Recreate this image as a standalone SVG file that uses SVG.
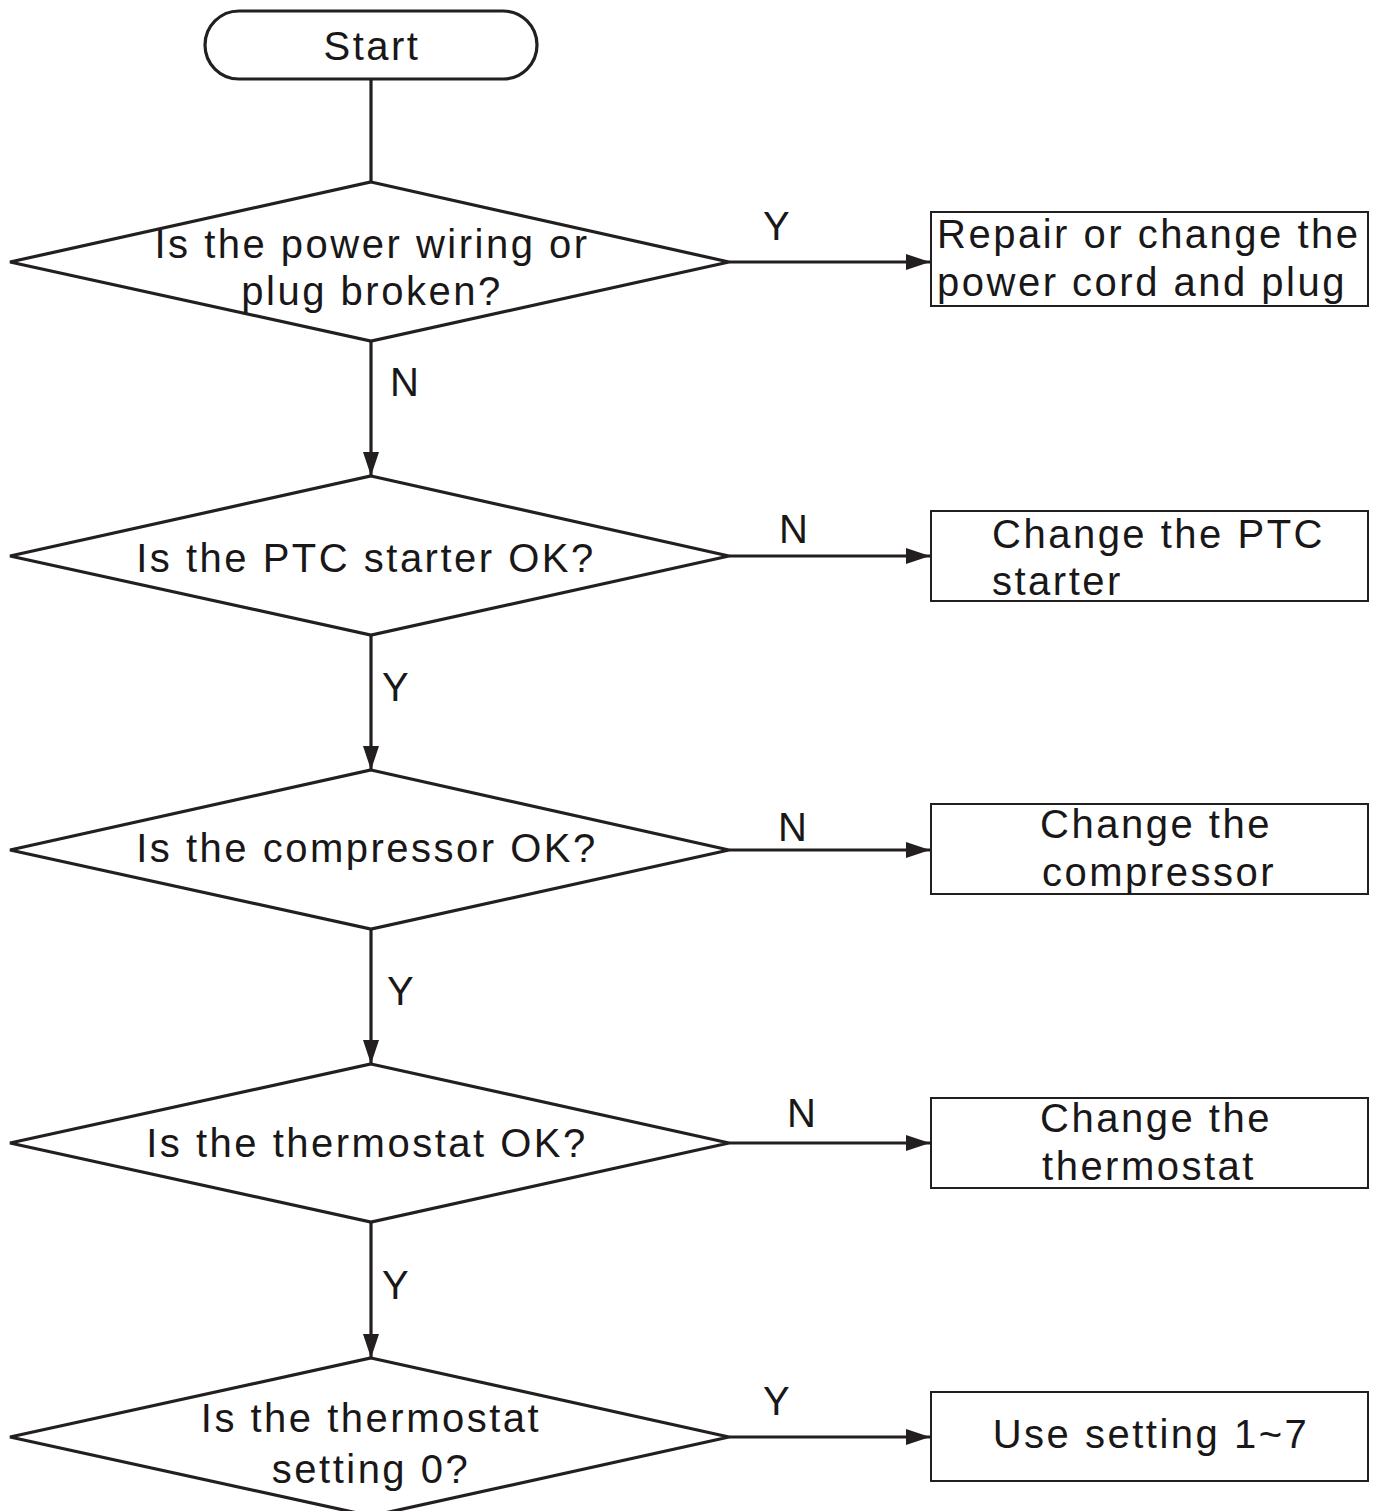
<svg xmlns="http://www.w3.org/2000/svg" width="1383" height="1511" viewBox="0 0 1383 1511">
  <style>
    .shape { fill: #fff; stroke: #231f20; stroke-width: 3.2; }
    .box { fill: #fff; stroke: #231f20; stroke-width: 2; }
    .wire { fill: none; stroke: #231f20; stroke-width: 3.2; }
    text { font-family: "Liberation Sans", Arial, sans-serif; font-size: 40px; fill: #1a1718; letter-spacing: 2.5px; }
    .c { text-anchor: middle; }
  </style>
  <defs>
    <marker id="arrow" markerUnits="userSpaceOnUse" markerWidth="26" markerHeight="18" refX="24" refY="8" orient="auto">
      <path d="M0,0 L24,8 L0,16 Z" fill="#231f20"/>
    </marker>
  </defs>
  <rect width="1383" height="1511" fill="#fff"/>

  <!-- connectors -->
  <g id="connectors">
    <line class="wire" x1="371" y1="79" x2="371" y2="182"/>
    <line class="wire" x1="371" y1="341" x2="371" y2="476" marker-end="url(#arrow)"/>
    <line class="wire" x1="371" y1="635" x2="371" y2="770" marker-end="url(#arrow)"/>
    <line class="wire" x1="371" y1="929" x2="371" y2="1064" marker-end="url(#arrow)"/>
    <line class="wire" x1="371" y1="1222" x2="371" y2="1358" marker-end="url(#arrow)"/>
    <line class="wire" x1="729" y1="262" x2="930" y2="262" marker-end="url(#arrow)"/>
    <line class="wire" x1="729" y1="556" x2="930" y2="556" marker-end="url(#arrow)"/>
    <line class="wire" x1="729" y1="850" x2="930" y2="850" marker-end="url(#arrow)"/>
    <line class="wire" x1="729" y1="1143" x2="930" y2="1143" marker-end="url(#arrow)"/>
    <line class="wire" x1="729" y1="1437" x2="930" y2="1437" marker-end="url(#arrow)"/>
    <text x="763" y="240">Y</text>
    <text x="390" y="396">N</text>
    <text x="779" y="543">N</text>
    <text x="382" y="701">Y</text>
    <text x="778" y="841">N</text>
    <text x="387" y="1005">Y</text>
    <text x="787" y="1127">N</text>
    <text x="382" y="1299">Y</text>
    <text x="763" y="1415">Y</text>
  </g>

  <g id="start">
    <rect class="shape" x="205" y="11" width="332" height="68" rx="34" ry="34"/>
    <text class="c" x="372" y="60">Start</text>
  </g>

  <g id="q-power">
    <polygon class="shape" points="371,182 729,262 371,341 10,262"/>
    <text class="c" x="372" y="258">Is the power wiring or</text>
    <text class="c" x="372" y="305">plug broken?</text>
  </g>
  <g id="fix-power">
    <rect class="box" x="931" y="212" width="437" height="94"/>
    <text x="937" y="248">Repair or change the</text>
    <text x="937" y="296">power cord and plug</text>
  </g>

  <g id="q-ptc">
    <polygon class="shape" points="371,476 729,556 371,635 10,556"/>
    <text class="c" x="366" y="572">Is the PTC starter OK?</text>
  </g>
  <g id="fix-ptc">
    <rect class="box" x="931" y="511" width="437" height="90"/>
    <text x="992" y="548">Change the PTC</text>
    <text x="992" y="595">starter</text>
  </g>

  <g id="q-compressor">
    <polygon class="shape" points="371,770 729,850 371,929 10,850"/>
    <text class="c" x="367" y="862">Is the compressor OK?</text>
  </g>
  <g id="fix-compressor">
    <rect class="box" x="931" y="804" width="437" height="90"/>
    <text class="c" x="1156" y="838">Change the</text>
    <text class="c" x="1159" y="886">compressor</text>
  </g>

  <g id="q-thermostat">
    <polygon class="shape" points="371,1064 729,1143 371,1222 10,1143"/>
    <text class="c" x="367" y="1157">Is the thermostat OK?</text>
  </g>
  <g id="fix-thermostat">
    <rect class="box" x="931" y="1098" width="437" height="90"/>
    <text class="c" x="1156" y="1132">Change the</text>
    <text class="c" x="1149" y="1180">thermostat</text>
  </g>

  <g id="q-setting">
    <polygon class="shape" points="371,1358 729,1437 371,1516 10,1437"/>
    <text class="c" x="371" y="1432">Is the thermostat</text>
    <text class="c" x="371" y="1483">setting 0?</text>
  </g>
  <g id="fix-setting">
    <rect class="box" x="931" y="1392" width="437" height="89"/>
    <text class="c" x="1151" y="1448">Use setting 1~7</text>
  </g>
</svg>
